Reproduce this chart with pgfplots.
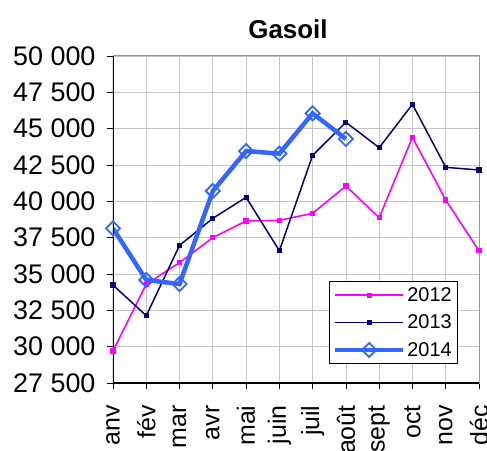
\documentclass[border=0pt]{standalone}
\usepackage{pgfplots}
\pgfplotsset{compat=1.18}
\usepackage{fontspec}
\setmainfont{Liberation Sans}
\definecolor{c12}{RGB}{255,0,255}
\definecolor{c13}{RGB}{0,0,128}
\definecolor{c14}{RGB}{51,102,255}
\begin{document}
\begin{tikzpicture}
\begin{axis}[
  at={(0,0)}, anchor=south west,
  scale only axis, width=366bp, height=327bp,
  xmin=0, xmax=11, ymin=27500, ymax=50000,
  scaled y ticks=false,
  xtick={0,1,2,3,4,5,6,7,8,9,10,11},
  xticklabels={anv,fév,mar,avr,mai,juin,juil,août,sept,oct,nov,déc},
  ytick={27500,30000,32500,35000,37500,40000,42500,45000,47500,50000},
  yticklabels={27 500,30 000,32 500,35 000,37 500,40 000,42 500,45 000,47 500,50 000},
  tick label style={font=\fontsize{27}{27}\selectfont},
  xticklabel style={rotate=90, anchor=east, font=\fontsize{25}{25}\selectfont},
  xticklabel shift=13bp,
  yticklabel shift=8bp,
  tick align=outside, xtick pos=bottom, ytick pos=left,
  major tick length=6bp,
  tick style={black, line width=0.8pt},
  grid=major,
  major grid style={draw=gray!45, line width=0.8pt},
  axis line style={draw=gray!80, line width=1pt},
  title={Gasoil},
  title style={font=\fontsize{26}{26}\selectfont\bfseries, at={(0.478,1)}, anchor=base, yshift=12bp},
  legend style={at={(0.943,0.058)}, anchor=south east, draw=black, line width=0.8pt,
    font=\fontsize{20}{20}\selectfont, row sep=8bp, inner xsep=4bp, inner ysep=4bp,
    cells={anchor=west}},
  legend cell align=left,
  legend image code/.code={\draw[mark repeat=2,mark phase=2,#1] plot coordinates {(0bp,0bp)(34bp,0bp)(68bp,0bp)};},
]
\addplot[c12, line width=1.6pt, mark=square*, mark size=1.8bp, mark options={solid}] coordinates {
(0,29700)(1,34300)(2,35780)(3,37500)(4,38650)(5,38690)(6,39175)(7,41055)(8,38875)(9,44400)(10,40090)(11,36600)};
\addlegendentry{2012}
\addplot[c13, line width=1.5pt, mark=square*, mark size=1.8bp] coordinates {
(0,34240)(1,32130)(2,36970)(3,38830)(4,40275)(5,36600)(6,43165)(7,45440)(8,43690)(9,46675)(10,42340)(11,42155)};
\addlegendentry{2013}
\addplot[c14, line width=4.5pt, mark=square, mark size=5bp, mark options={rotate=45, fill=white, draw=c14, line width=1.8pt}] coordinates {
(0,38140)(1,34590)(2,34310)(3,40710)(4,43460)(5,43280)(6,46055)(7,44290)};
\addlegendentry{2014}
\draw[black, line width=1.2pt] (rel axis cs:0,1) -- (rel axis cs:0,0) -- (rel axis cs:1,0);
\end{axis}
\pgfresetboundingbox
\useasboundingbox (-113bp,-68bp) rectangle (374bp,383bp);
\end{tikzpicture}
\end{document}
